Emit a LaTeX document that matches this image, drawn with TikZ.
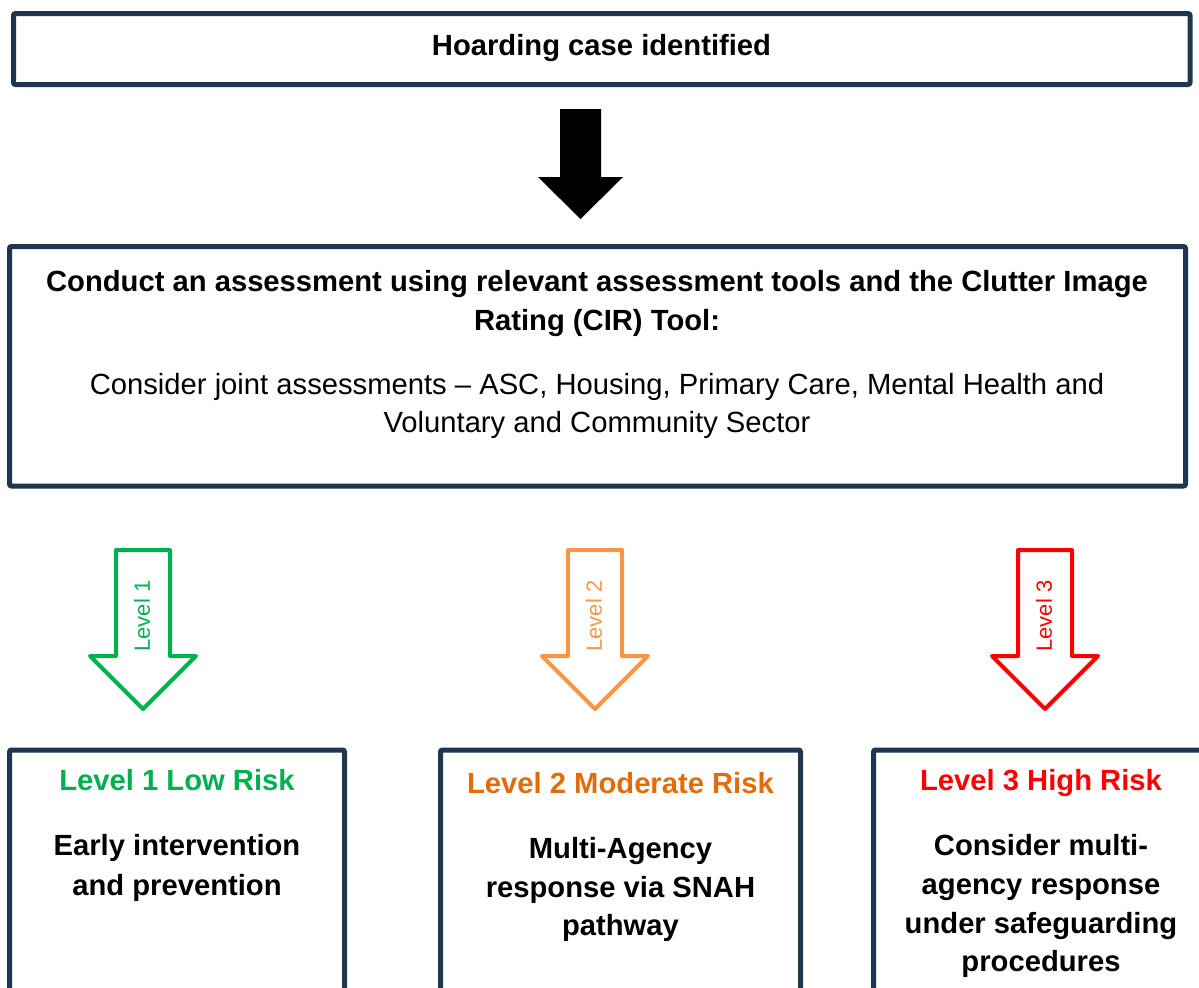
\documentclass[tikz,border=0pt]{standalone}
\usepackage{fontspec}
\setmainfont{Liberation Sans}
\definecolor{navy}{HTML}{1F3651}
\definecolor{lgreen}{HTML}{00B050}
\definecolor{lorange}{HTML}{F79646}
\definecolor{dorange}{HTML}{E36C0A}
\definecolor{lred}{HTML}{FF0000}
\begin{document}
\begin{tikzpicture}[x=0.5pt,y=-0.5pt,
  box/.style={draw=navy, line width=2.5pt, rounded corners=1pt},
  bt/.style={font=\bfseries\fontsize{14.6}{17}\selectfont, anchor=base, inner sep=0pt},
  rt/.style={font=\fontsize{14.6}{17}\selectfont, anchor=base, inner sep=0pt},
  lvl/.style={font=\fontsize{11}{13}\selectfont, rotate=90, inner sep=0pt},
  larrow/.style={line width=2pt, line join=round}]
\useasboundingbox (0,0) rectangle (1199,987);
\clip (0,0) rectangle (1199,987);
% top box
\draw[box] (13.5,13.5) rectangle (1190,84.5);
\node[bt] (t1) at (601.5,55) {Hoarding case identified};
% black arrow
\fill[black] (560,109) -- (601,109) -- (601,177) -- (623,177) -- (580.5,219) -- (538,177) -- (560,177) -- cycle;
% assessment box
\draw[box] (9.5,246.5) rectangle (1185.5,486);
\node[bt] (t2a) at (597,291) {Conduct an assessment using relevant assessment tools and the Clutter Image};
\node[bt] (t2b) at (597,330) {Rating (CIR) Tool:};
\node[rt] (t2c) at (597,394) {Consider joint assessments – ASC, Housing, Primary Care, Mental Health and};
\node[rt] (t2d) at (597,432) {Voluntary and Community Sector};
% level arrows
\foreach \cx/\col/\txt/\nm in {143/lgreen/Level 1/a1, 595/lorange/Level 2/a2, 1045/lred/Level 3/a3} {
  \draw[larrow, draw=\col] (\cx-27,550) -- (\cx+27,550) -- (\cx+27,656) -- (\cx+53,656) -- (\cx,709) -- (\cx-53,656) -- (\cx-27,656) -- cycle;
  \node[lvl, text=\col] (\nm) at (\cx-1,616) {\txt};
}
% level boxes
\draw[box] (9.5,750) rectangle (344.5,1010);
\node[bt, text=lgreen] (h1) at (177,790) {Level 1 Low Risk};
\node[bt] (l1a) at (177,855) {Early intervention};
\node[bt] (l1b) at (177,895) {and prevention};
\draw[box] (440.5,750) rectangle (800.5,1010);
\node[bt, text=dorange] (h2) at (620.5,793) {Level 2 Moderate Risk};
\node[bt] (l2a) at (620.5,858) {Multi-Agency};
\node[bt] (l2b) at (620.5,897) {response via SNAH};
\node[bt] (l2c) at (620.5,935) {pathway};
\draw[box] (873.5,750) rectangle (1215,1010);
\node[bt, text=lred] (h3) at (1041,790) {Level 3 High Risk};
\node[bt] (l3a) at (1041,855) {Consider multi-};
\node[bt] (l3b) at (1041,894) {agency response};
\node[bt] (l3c) at (1041,933) {under safeguarding};
\node[bt] (l3d) at (1041,971) {procedures};
\end{tikzpicture}
\end{document}
